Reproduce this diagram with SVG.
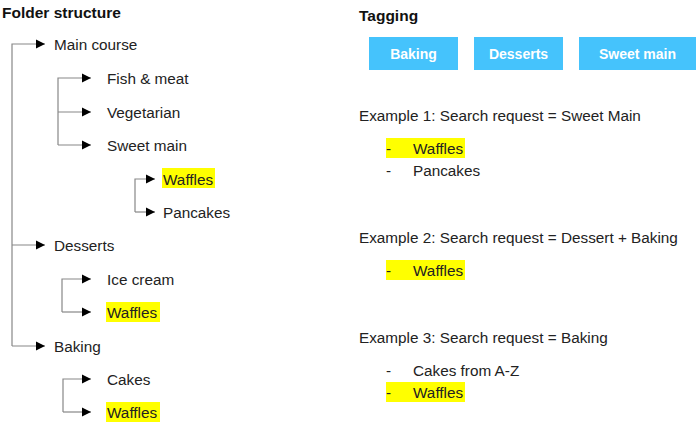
<svg xmlns="http://www.w3.org/2000/svg" width="700" height="425" viewBox="0 0 700 425">
<defs>
<marker id="ah" markerWidth="10" markerHeight="10" refX="9" refY="5" orient="auto" markerUnits="userSpaceOnUse">
<path d="M0,0.5 L9,5 L0,9.5 Z" fill="#000"/>
</marker>
<style>
text{font-family:"Liberation Sans",Arial,sans-serif;font-size:15.3px;fill:#222}
.h{font-weight:bold;font-size:15.5px;fill:#111}
.tag{font-weight:bold;font-size:14px;fill:#fff;text-anchor:middle}
.c{fill:none;stroke:#888;stroke-width:1.2}
.hl{fill:#ffff00}
.box{fill:#45c3fc}
</style>
</defs>
<rect width="700" height="425" fill="#fff"/>
<text class="h" x="2" y="18">Folder structure</text>
<text class="h" x="359" y="21">Tagging</text>
<g id="connectors">
<path class="c" d="M12,346 V44 H45" marker-end="url(#ah)"/>
<path class="c" d="M12,245 H45" marker-end="url(#ah)"/>
<path class="c" d="M12,346 H45" marker-end="url(#ah)"/>
<path class="c" d="M58,145 V78 H91" marker-end="url(#ah)"/>
<path class="c" d="M58,112 H91" marker-end="url(#ah)"/>
<path class="c" d="M58,145 H91" marker-end="url(#ah)"/>
<path class="c" d="M135,212 V179 H155" marker-end="url(#ah)"/>
<path class="c" d="M135,212 H155" marker-end="url(#ah)"/>
<path class="c" d="M62,312 V279 H91" marker-end="url(#ah)"/>
<path class="c" d="M62,312 H91" marker-end="url(#ah)"/>
<path class="c" d="M63,412 V379 H91" marker-end="url(#ah)"/>
<path class="c" d="M63,412 H91" marker-end="url(#ah)"/>
</g>
<g id="main-course"><text x="54" y="49.5">Main course</text></g>
<g id="fish-meat"><text x="107" y="83.5">Fish &amp; meat</text></g>
<g id="vegetarian"><text x="107" y="117.5">Vegetarian</text></g>
<g id="sweet-main"><text x="107" y="150.5">Sweet main</text></g>
<g id="waffles-1"><rect class="hl" x="162" y="168" width="53" height="20"/><text x="163" y="184.5">Waffles</text></g>
<g id="pancakes"><text x="163" y="217.5">Pancakes</text></g>
<g id="desserts"><text x="54" y="250.5">Desserts</text></g>
<g id="ice-cream"><text x="107" y="284.5">Ice cream</text></g>
<g id="waffles-2"><rect class="hl" x="106" y="302" width="54" height="20"/><text x="107" y="317.5">Waffles</text></g>
<g id="baking"><text x="54" y="351.5">Baking</text></g>
<g id="cakes"><text x="107" y="384.5">Cakes</text></g>
<g id="waffles-3"><rect class="hl" x="106" y="402" width="54" height="20"/><text x="107" y="417.5">Waffles</text></g>

<g id="tag-baking"><rect class="box" x="369" y="37" width="89" height="33"/><text class="tag" x="413.5" y="58.5">Baking</text></g>
<g id="tag-desserts"><rect class="box" x="474" y="37" width="89" height="33"/><text class="tag" x="518.5" y="58.5">Desserts</text></g>
<g id="tag-sweet-main"><rect class="box" x="579" y="37" width="117" height="33"/><text class="tag" x="637.5" y="58.5">Sweet main</text></g>

<g id="example1">
<text x="359" y="120.5">Example 1: Search request = Sweet Main</text>
<rect class="hl" x="386" y="138" width="79" height="20"/>
<text x="386" y="153.5">-</text><text x="413" y="153.5">Waffles</text>
<text x="386" y="175.5">-</text><text x="413" y="175.5">Pancakes</text>
</g>
<g id="example2">
<text x="359" y="242.5">Example 2: Search request = Dessert + Baking</text>
<rect class="hl" x="386" y="260" width="79" height="20"/>
<text x="386" y="275.5">-</text><text x="413" y="275.5">Waffles</text>
</g>
<g id="example3">
<text x="359" y="342.5">Example 3: Search request = Baking</text>
<text x="386" y="375.5">-</text><text x="413" y="375.5">Cakes from A-Z</text>
<rect class="hl" x="386" y="382" width="79" height="20"/>
<text x="386" y="397.5">-</text><text x="413" y="397.5">Waffles</text>
</g>
</svg>
